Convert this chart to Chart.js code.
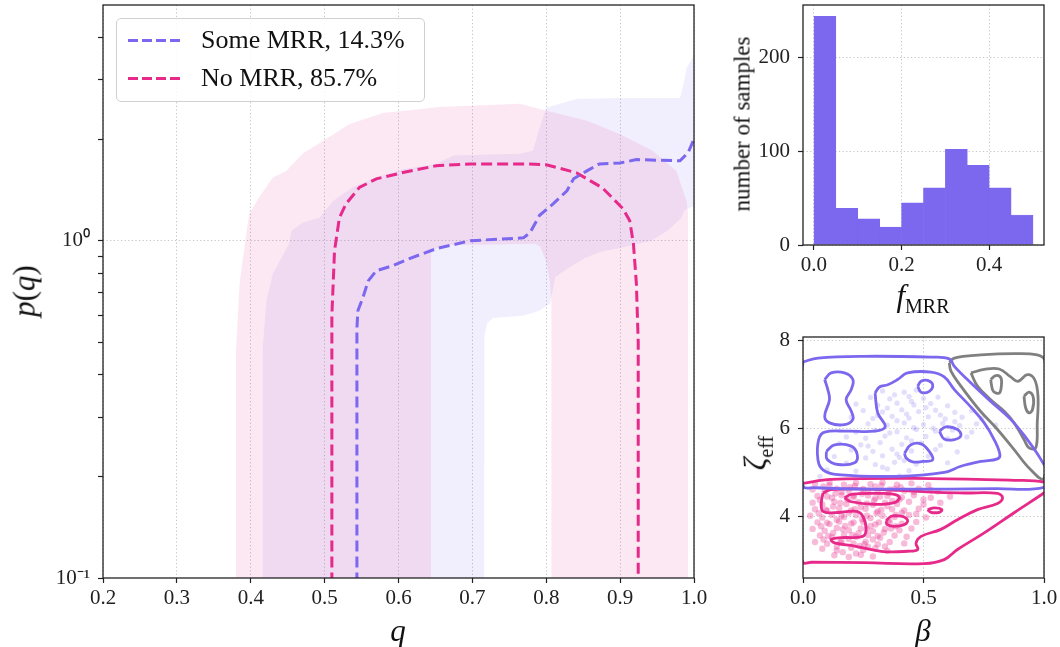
<!DOCTYPE html>
<html>
<head>
<meta charset="UTF-8">
<script src="https://cdn.jsdelivr.net/npm/chart.js@4.4.0/dist/chart.umd.min.js"></script>
<title>MRR fraction</title>
<style>
body{margin:0;background:#fff;font-family:'Liberation Serif',serif}
#wrap{position:relative;width:1060px;height:647px;overflow:hidden}
.box{position:absolute}
.lbl{position:absolute;transform:translate(-50%,-50%);white-space:nowrap;color:#111;line-height:1}
.rot{transform:translate(-50%,-50%) rotate(-90deg)}
#legend{position:absolute;left:116px;top:18px;width:307px;height:82px;border:1px solid #d0d0d0;border-radius:5px;background:rgba(255,255,255,0.85);z-index:5}
.lrow{position:absolute;left:0;width:100%;height:30px}
.lline{position:absolute;left:11px;top:14px;width:53px;height:3px}
.ltext{position:absolute;left:84px;top:0;font-size:26px;line-height:30px;color:#111}
</style>
</head>
<body>
<div id="wrap">
	<div class="box" style="left:0;top:0;width:740px;height:647px"><canvas id="mainChart"></canvas></div>
	<div class="box" style="left:730px;top:0;width:330px;height:320px"><canvas id="histChart"></canvas></div>
	<div class="box" style="left:730px;top:320px;width:330px;height:327px"><canvas id="kdeChart"></canvas></div>

	<div id="legend">
		<div class="lrow" style="top:6px">
			<div class="lline" style="background:repeating-linear-gradient(to right,#7b68ee 0 10px,transparent 10px 14px)"></div>
			<div class="ltext">Some MRR, 14.3%</div>
		</div>
		<div class="lrow" style="top:44px">
			<div class="lline" style="background:repeating-linear-gradient(to right,#e7298a 0 10px,transparent 10px 14px)"></div>
			<div class="ltext">No MRR, 85.7%</div>
		</div>
	</div>

	<div class="lbl" style="left:398px;top:630px;font-size:31px"><i>q</i></div>
	<div class="lbl rot" style="left:24px;top:291px;font-size:31px"><i>p</i>(<i>q</i>)</div>
	<div class="lbl rot" style="left:742px;top:124px;font-size:23px">number of samples</div>
	<div class="lbl" style="left:923px;top:298px;font-size:31px"><i>f</i><sub style="font-size:20px">MRR</sub></div>
	<div class="lbl rot" style="left:758px;top:453px;font-size:31px"><i>ζ</i><sub style="font-size:20px">eff</sub></div>
	<div class="lbl" style="left:923px;top:630px;font-size:31px"><i>β</i></div>
</div>
<script>
// ---- p(q) panel: dashed medians and 90% bands ----
var someMrrMedian = [[0.5437,0.05],[0.5437,0.55],[0.545,0.62],[0.552,0.68],[0.559,0.76],[0.570,0.815],[0.592,0.843],[0.614,0.884],[0.651,0.947],[0.697,1.0],[0.769,1.02],[0.778,1.056],[0.791,1.19],[0.81,1.29],[0.828,1.406],[0.837,1.526],[0.855,1.611],[0.872,1.69],[0.9,1.70],[0.922,1.74],[0.981,1.726],[0.992,1.823],[0.999,1.98],[1.0,2.0]];
var noMrrMedian = [[0.5098,0.05],[0.5098,0.6],[0.5134,0.934],[0.52,1.17],[0.529,1.287],[0.547,1.438],[0.570,1.526],[0.606,1.593],[0.651,1.668],[0.697,1.69],[0.769,1.69],[0.8,1.68],[0.841,1.59],[0.876,1.435],[0.904,1.244],[0.913,1.146],[0.918,0.98],[0.922,0.746],[0.9245,0.5],[0.9245,0.05]];
var someMrrUpper = [[0.4159,0.01],[0.416,0.47],[0.421,0.66],[0.43,0.8],[0.452,0.98],[0.455,1.07],[0.47,1.13],[0.493,1.17],[0.511,1.31],[0.538,1.44],[0.57,1.54],[0.606,1.63],[0.651,1.69],[0.674,1.79],[0.765,1.81],[0.782,1.85],[0.791,2.16],[0.80,2.48],[0.841,2.63],[0.9,2.65],[0.981,2.65],[0.986,2.92],[0.99,3.25],[0.998,3.48],[1.0,3.6]];
var someMrrLower = [[0.4159,0.01],[0.716,0.01],[0.7161,0.52],[0.72,0.57],[0.728,0.59],[0.77,0.60],[0.79,0.62],[0.805,0.65],[0.808,0.70],[0.812,0.78],[0.83,0.83],[0.853,0.89],[0.876,0.93],[0.898,0.95],[0.942,1.0],[0.964,1.07],[0.983,1.17],[0.987,1.23],[1.0,1.27]];
var noMrrUpper = [[0.3799,0.01],[0.380,0.47],[0.385,0.75],[0.394,1.05],[0.398,1.2],[0.411,1.34],[0.43,1.54],[0.448,1.61],[0.47,1.81],[0.498,1.98],[0.534,2.22],[0.579,2.39],[0.656,2.49],[0.765,2.55],[0.8,2.43],[0.855,2.27],[0.9,2.07],[0.944,1.85],[0.976,1.61],[0.99,1.31],[0.992,1.2],[0.9921,0.01]];
var noMrrLower = [[0.3799,0.01],[0.644,0.01],[0.6441,0.93],[0.66,0.97],[0.785,0.98],[0.792,0.96],[0.80,0.87],[0.805,0.76],[0.807,0.66],[0.8071,0.01],[0.9921,0.01]];
var qTicks = [0.2,0.3,0.4,0.5,0.6,0.7,0.8,0.9,1.0];
var pTicks = [0.1,0.2,0.3,0.4,0.5,0.6,0.7,0.8,0.9,1,2,3,4];

// ---- f_MRR histogram ----
var histCenters = [0.025,0.075,0.125,0.175,0.225,0.275,0.325,0.375,0.425,0.475];
var histCounts = [244,39,28,19,45,61,102,85,61,32];
var fTicks = [0,0.2,0.4];
var countTicks = [0,100,200];

// ---- beta / zeta_eff panel ----
var betaTicks = [0,0.5,1];
var zetaTicks = [4,6,8];
var someMrrContours = [
	[[0,7.52],[0.062,7.61],[0.255,7.65],[0.531,7.63],[0.607,7.59],[0.628,7.42],[0.697,7.04],[0.779,6.62],[0.862,6.21],[0.931,5.75],[0.979,5.37],[1.0,5.18],[1.03,4.95],[1.0,4.66],[0.8,4.63],[0.3,4.62],[0.05,4.65],[0.0,4.7],[-0.03,6.1],[0,7.52]],
	[[0.090,7.12],[0.117,7.27],[0.172,7.27],[0.207,7.12],[0.2,6.89],[0.179,6.66],[0.2,6.40],[0.207,6.21],[0.172,6.09],[0.110,6.13],[0.090,6.28],[0.110,6.66],[0.103,6.89],[0.090,7.12]],
	[[0.299,6.81],[0.310,6.36],[0.341,6.04],[0.297,5.94],[0.186,5.94],[0.090,5.92],[0.065,5.75],[0.062,5.29],[0.083,5.06],[0.145,4.95],[0.393,4.91],[0.586,5.00],[0.655,5.14],[0.738,5.25],[0.807,5.31],[0.817,5.41],[0.793,5.75],[0.752,6.13],[0.697,6.49],[0.628,6.89],[0.586,7.18],[0.531,7.29],[0.434,7.27],[0.393,7.12],[0.352,7.00],[0.317,6.95],[0.299,6.81]],
	[[0.476,6.97],[0.490,7.08],[0.517,7.10],[0.538,7.00],[0.524,6.85],[0.490,6.83],[0.476,6.97]],
	[[0.566,5.94],[0.593,6.04],[0.641,5.98],[0.655,5.84],[0.628,5.75],[0.586,5.76],[0.566,5.94]],
	[[0.097,5.48],[0.131,5.63],[0.2,5.60],[0.225,5.41],[0.214,5.22],[0.145,5.18],[0.10,5.30],[0.097,5.48]],
	[[0.421,5.44],[0.448,5.63],[0.490,5.65],[0.524,5.48],[0.538,5.29],[0.497,5.25],[0.455,5.24],[0.428,5.33],[0.421,5.44]]
];
var noMrrContours = [
	[[0,4.75],[0.117,4.84],[0.531,4.86],[0.876,4.82],[1.0,4.78],[1.03,4.65],[1.0,4.53],[0.876,4.08],[0.752,3.62],[0.641,3.24],[0.586,3.01],[0.503,2.92],[0.255,2.94],[0.034,2.95],[0,2.95],[-0.03,3.8],[0,4.75]],
	[[0.083,4.53],[0.117,4.61],[0.255,4.62],[0.393,4.59],[0.531,4.55],[0.669,4.53],[0.807,4.52],[0.828,4.42],[0.807,4.29],[0.724,4.15],[0.641,3.92],[0.572,3.70],[0.490,3.54],[0.469,3.39],[0.476,3.24],[0.434,3.20],[0.324,3.20],[0.214,3.32],[0.131,3.39],[0.117,3.47],[0.159,3.51],[0.248,3.54],[0.262,3.70],[0.248,4.00],[0.221,4.11],[0.131,4.08],[0.083,4.11],[0.076,4.30],[0.083,4.53]],
	[[0.172,4.42],[0.2,4.50],[0.310,4.52],[0.379,4.50],[0.400,4.42],[0.379,4.31],[0.297,4.27],[0.2,4.33],[0.172,4.42]],
	[[0.345,3.89],[0.366,4.0],[0.407,4.0],[0.434,3.91],[0.421,3.81],[0.379,3.77],[0.349,3.81],[0.345,3.89]],
	[[0.517,4.15],[0.545,4.19],[0.576,4.15],[0.566,4.09],[0.531,4.09],[0.517,4.15]]
];
var otherContours = [
	[[0.607,7.50],[0.628,7.61],[0.738,7.68],[0.876,7.71],[0.972,7.68],[1.003,7.56],[1.03,6.5],[1.0,4.87],[0.945,5.06],[0.876,5.52],[0.807,5.98],[0.731,6.43],[0.655,6.97],[0.614,7.31],[0.607,7.50]],
	[[0.697,7.27],[0.752,7.35],[0.814,7.36],[0.862,7.18],[0.892,7.08],[0.931,7.23],[0.961,7.12],[0.975,6.74],[0.972,6.13],[0.966,5.56],[0.938,5.56],[0.917,5.75],[0.876,6.13],[0.834,6.40],[0.779,6.66],[0.724,6.97],[0.697,7.27]],
	[[0.779,7.12],[0.8,7.21],[0.821,7.16],[0.823,6.97],[0.814,6.81],[0.790,6.85],[0.782,7.0],[0.779,7.12]],
	[[0.917,6.74],[0.938,6.83],[0.956,6.70],[0.952,6.43],[0.938,6.36],[0.924,6.47],[0.917,6.74]]
];
var someMrrSamples = [[0.33,6.86],[0.42,6.83],[0.47,6.88],[0.28,6.71],[0.36,6.68],[0.44,6.73],[0.50,6.69],[0.56,6.72],[0.22,6.56],[0.31,6.53],[0.39,6.58],[0.46,6.54],[0.53,6.57],[0.60,6.52],[0.25,6.41],[0.33,6.38],[0.41,6.43],[0.48,6.39],[0.55,6.42],[0.63,6.37],[0.70,6.41],[0.20,6.26],[0.29,6.23],[0.37,6.28],[0.44,6.24],[0.52,6.27],[0.59,6.22],[0.66,6.26],[0.74,6.23],[0.27,6.11],[0.35,6.08],[0.42,6.13],[0.50,6.09],[0.58,6.12],[0.65,6.07],[0.72,6.11],[0.80,6.08],[0.30,5.96],[0.39,5.93],[0.47,5.98],[0.55,5.94],[0.62,5.97],[0.70,5.92],[0.18,5.81],[0.26,5.78],[0.34,5.83],[0.43,5.79],[0.51,5.82],[0.60,5.77],[0.68,5.81],[0.15,5.66],[0.24,5.63],[0.32,5.68],[0.41,5.64],[0.49,5.67],[0.57,5.62],[0.20,5.51],[0.29,5.48],[0.37,5.53],[0.45,5.49],[0.55,5.52],[0.64,5.47],[0.13,5.36],[0.26,5.33],[0.33,5.38],[0.40,5.34],[0.52,5.37],[0.18,5.21],[0.30,5.18],[0.38,5.23],[0.47,5.19],[0.60,5.22],[0.10,5.06],[0.22,5.03],[0.35,5.08],[0.44,5.04],[0.07,4.91],[0.25,4.88],[0.40,4.92],
	[0.38,6.77],[0.45,6.62],[0.35,6.47],[0.43,6.33],[0.39,6.18],[0.46,6.02],[0.36,5.90],[0.45,5.72],[0.39,5.42],[0.33,5.12],[0.31,6.30],[0.51,6.48],[0.57,6.31],[0.27,5.60],[0.42,5.27],[0.63,6.16],[0.22,5.92],[0.54,6.01]];
var noMrrSamples = [[0.05,4.74],[0.11,4.77],[0.17,4.72],[0.22,4.76],[0.28,4.73],[0.33,4.77],[0.39,4.72],[0.45,4.75],[0.52,4.71],
	[0.04,4.61],[0.09,4.57],[0.14,4.63],[0.19,4.58],[0.25,4.62],[0.31,4.56],[0.36,4.61],[0.42,4.58],[0.48,4.63],[0.56,4.57],
	[0.06,4.46],[0.12,4.42],[0.16,4.48],[0.21,4.44],[0.27,4.47],[0.30,4.41],[0.35,4.46],[0.41,4.43],[0.46,4.48],[0.53,4.42],[0.61,4.45],
	[0.04,4.31],[0.08,4.27],[0.13,4.33],[0.18,4.28],[0.23,4.32],[0.29,4.26],[0.34,4.31],[0.39,4.28],[0.44,4.33],[0.50,4.27],[0.57,4.31],
	[0.05,4.16],[0.10,4.12],[0.15,4.18],[0.20,4.13],[0.26,4.17],[0.31,4.11],[0.37,4.16],[0.42,4.13],[0.48,4.17],
	[0.03,4.01],[0.08,3.97],[0.12,4.03],[0.17,3.98],[0.22,4.02],[0.28,3.96],[0.33,4.01],[0.38,3.98],[0.44,4.03],[0.51,3.97],
	[0.06,3.86],[0.11,3.82],[0.15,3.88],[0.20,3.83],[0.25,3.87],[0.30,3.81],[0.36,3.86],[0.41,3.83],[0.47,3.87],
	[0.04,3.71],[0.09,3.67],[0.14,3.73],[0.19,3.68],[0.24,3.72],[0.29,3.66],[0.34,3.71],[0.40,3.68],[0.45,3.72],
	[0.07,3.56],[0.12,3.52],[0.17,3.58],[0.22,3.53],[0.27,3.57],[0.32,3.51],[0.38,3.56],[0.43,3.53],
	[0.05,3.41],[0.10,3.37],[0.16,3.43],[0.21,3.38],[0.26,3.42],[0.31,3.36],[0.36,3.41],[0.42,3.38],
	[0.08,3.26],[0.14,3.22],[0.20,3.28],[0.25,3.23],[0.30,3.27],[0.35,3.21],
	[0.13,3.11],[0.19,3.07],[0.24,3.12],[0.29,3.08],
	[0.085,4.68],[0.135,4.52],[0.195,4.66],[0.245,4.51],[0.30,4.68],[0.355,4.53],[0.405,4.66],
	[0.07,4.37],[0.125,4.22],[0.185,4.38],[0.24,4.21],[0.295,4.36],[0.35,4.23],[0.40,4.38],
	[0.065,4.07],[0.14,3.92],[0.19,4.08],[0.245,3.93],[0.305,4.07],[0.355,3.91],[0.41,4.08],
	[0.075,3.77],[0.125,3.62],[0.175,3.78],[0.23,3.61],[0.28,3.78],[0.335,3.63],[0.385,3.77],
	[0.085,3.47],[0.14,3.31],[0.19,3.48],[0.235,3.32],[0.29,3.47],[0.34,3.31],
	[0.11,4.70],[0.16,4.55],[0.215,4.69],[0.27,4.55],[0.325,4.70],[0.38,4.62],[0.10,4.45],[0.155,4.30],[0.21,4.47],[0.265,4.29],[0.32,4.45],[0.37,4.35],
	[0.095,4.15],[0.16,4.01],[0.215,4.16],[0.265,4.01],[0.325,4.15],[0.385,4.03],[0.10,3.85],[0.165,3.70],[0.21,3.86],[0.265,3.70],[0.315,3.86],[0.365,3.72],
	[0.105,3.55],[0.155,3.40],[0.205,3.57],[0.255,3.36],[0.31,3.55],[0.165,3.18],[0.22,3.15],[0.27,3.30],[0.46,4.55],[0.50,4.38],[0.47,4.05],[0.53,4.60]];

var purple = '#7b68ee';
var pink = '#e7298a';
var grey = '#808080';
var gridColor = 'rgba(160,160,160,0.8)';
var tickFont = {family: "'Liberation Serif', serif", size: 21};

function xy(arr){ return arr.map(function(p){ return {x:p[0], y:p[1]}; }); }
function setTicks(list){ return function(s){ s.ticks = list.map(function(v){ return {value:v}; }); }; }
function fixWidth(w){ return function(s){ s.width = w; s.paddingTop = 0; s.paddingBottom = 0; }; }
function fixHeight(h){ return function(s){ s.height = h; s.paddingLeft = 0; s.paddingRight = 0; }; }

// draws the four spines like a matplotlib frame
var framePlugin = {
	id: 'frame',
	afterDraw: function(chart){
		var a = chart.chartArea, c = chart.ctx;
		c.save();
		c.strokeStyle = '#222';
		c.lineWidth = 1.3;
		c.strokeRect(a.left, a.top, a.right - a.left, a.bottom - a.top);
		c.restore();
	}
};

function axisX(min, max, ticks, fmt, h){
	return {
		type: 'linear', min: min, max: max, offset: false,
		afterBuildTicks: setTicks(ticks), afterFit: fixHeight(h),
		grid: {color: gridColor, lineWidth: 0.8, tickColor: '#222', tickLength: 5, tickWidth: 1.2, offset: false},
		border: {display: false, dash: [1.2, 2.4]},
		ticks: {font: tickFont, color: '#222', padding: 3, autoSkip: false, maxRotation: 0, callback: fmt}
	};
}
function axisY(type, min, max, ticks, fmt, w, gridFn){
	return {
		type: type, min: min, max: max,
		afterBuildTicks: setTicks(ticks), afterFit: fixWidth(w),
		grid: {color: gridFn || gridColor, lineWidth: 0.8, tickColor: '#222', tickLength: 5, tickWidth: 1.2},
		border: {display: false, dash: [1.2, 2.4]},
		ticks: {font: tickFont, color: '#222', padding: 8, autoSkip: false, callback: fmt}
	};
}
var baseOptions = function(pad){
	return {
		responsive: true, maintainAspectRatio: false, animation: false,
		layout: {padding: pad},
		plugins: {legend: {display: false}, tooltip: {enabled: false}}
	};
};

// ---- main chart ----
var mainOpts = baseOptions({top: 5, right: 46, left: 0, bottom: 0});
mainOpts.scales = {
	x: axisX(0.2, 1.0, qTicks, function(v){ return v.toFixed(1); }, 69),
	y: axisY('logarithmic', 0.1, 5, pTicks, function(v){
		if (Math.abs(v - 1) < 1e-9) return '10⁰';
		if (Math.abs(v - 0.1) < 1e-9) return '10⁻¹';
		return '';
	}, 103, function(ctx){
		var v = ctx.tick ? ctx.tick.value : 0;
		return Math.abs(v - 1) < 1e-9 ? gridColor : 'rgba(0,0,0,0)';
	})
};
new Chart(document.getElementById('mainChart'), {
	type: 'line',
	data: {datasets: [
		{data: xy(someMrrMedian), borderColor: purple, borderWidth: 3, borderDash: [11, 5], pointRadius: 0, fill: false},
		{data: xy(noMrrMedian), borderColor: pink, borderWidth: 3, borderDash: [11, 5], pointRadius: 0, fill: false},
		{data: xy(someMrrUpper), borderWidth: 0, pointRadius: 0, backgroundColor: 'rgba(123,104,238,0.11)', fill: '+1'},
		{data: xy(someMrrLower), borderWidth: 0, pointRadius: 0, fill: false},
		{data: xy(noMrrUpper), borderWidth: 0, pointRadius: 0, backgroundColor: 'rgba(231,41,138,0.11)', fill: '+1'},
		{data: xy(noMrrLower), borderWidth: 0, pointRadius: 0, fill: false}
	]},
	options: mainOpts,
	plugins: [framePlugin]
});

// ---- histogram ----
var histOpts = baseOptions({top: 5, right: 16, left: 0, bottom: 0});
histOpts.scales = {
	x: axisX(-0.025, 0.525, fTicks, function(v){ return v.toFixed(1); }, 75),
	y: axisY('linear', 0, 256, countTicks, function(v){ return String(v); }, 73)
};
new Chart(document.getElementById('histChart'), {
	type: 'bar',
	data: {datasets: [{
		data: histCenters.map(function(c, i){ return {x: c, y: histCounts[i]}; }),
		backgroundColor: purple, borderColor: purple, borderWidth: 0.5,
		barPercentage: 1, categoryPercentage: 1
	}]},
	options: histOpts,
	plugins: [framePlugin]
});

// ---- beta / zeta_eff panel ----
var kdeSets = [];
someMrrContours.forEach(function(c){ kdeSets.push({data: xy(c), borderColor: purple, borderWidth: 2.8, pointRadius: 0, tension: 0.4, fill: false, clip: 0}); });
noMrrContours.forEach(function(c){ kdeSets.push({data: xy(c), borderColor: pink, borderWidth: 2.8, pointRadius: 0, tension: 0.4, fill: false, clip: 0}); });
otherContours.forEach(function(c){ kdeSets.push({data: xy(c), borderColor: grey, borderWidth: 2.8, pointRadius: 0, tension: 0.4, fill: false, clip: 0}); });
kdeSets.push({data: xy(someMrrSamples), showLine: false, pointRadius: 2.6, borderWidth: 0, backgroundColor: 'rgba(123,104,238,0.22)'});
kdeSets.push({data: xy(noMrrSamples), showLine: false, pointRadius: 3.2, borderWidth: 0, backgroundColor: 'rgba(231,41,138,0.32)'});

var kdeOpts = baseOptions({top: 17, right: 16, left: 0, bottom: 0});
kdeOpts.scales = {
	x: axisX(0, 1, betaTicks, function(v){ return v.toFixed(1); }, 69),
	y: axisY('linear', 2.59, 8.09, zetaTicks, function(v){ return String(v); }, 73)
};
new Chart(document.getElementById('kdeChart'), {
	type: 'line',
	data: {datasets: kdeSets},
	options: kdeOpts,
	plugins: [framePlugin]
});
</script>
</body>
</html>
